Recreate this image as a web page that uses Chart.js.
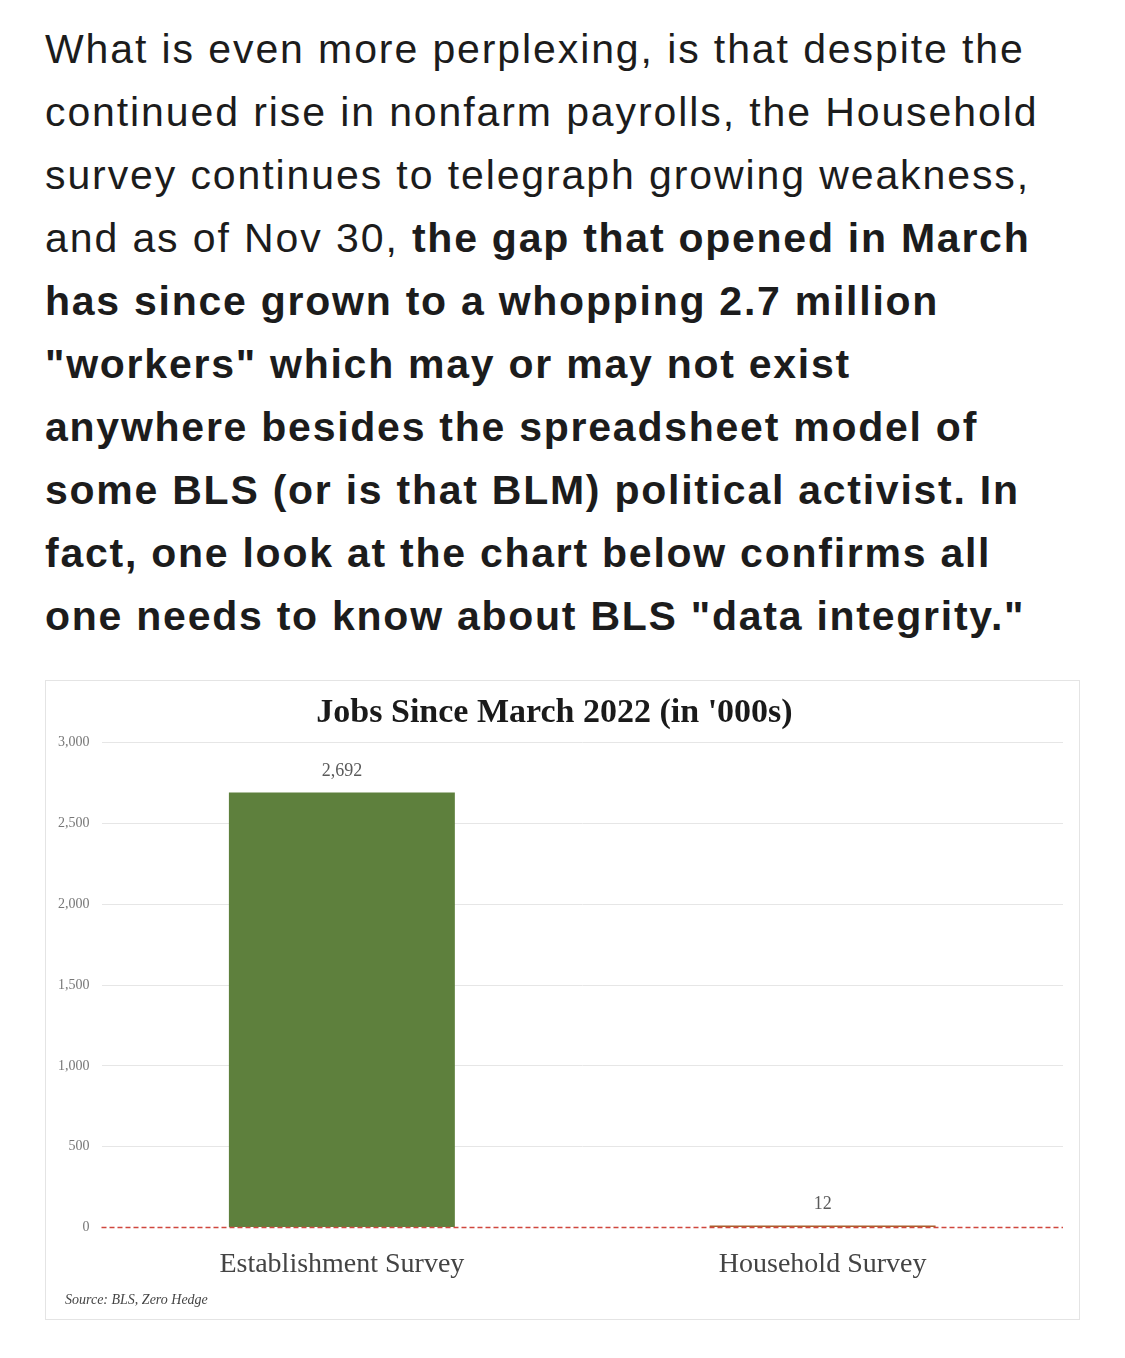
<!DOCTYPE html>
<html>
<head>
<meta charset="utf-8">
<script src="https://cdn.jsdelivr.net/npm/chart.js@4/dist/chart.umd.min.js"></script>
<style>
  body { margin: 0; background: #fff; width: 1125px; height: 1358px; position: relative; overflow: hidden; }
  #text {
    position: absolute; left: 45px; top: 18px;
    font-family: "Liberation Sans", Arial, sans-serif;
    font-size: 41px; line-height: 63px; color: #1c1c1c;
    letter-spacing: 1.9px;
    white-space: nowrap;
  }
  #text b { font-weight: bold; letter-spacing: 1.75px; }
  #chart-box {
    position: absolute; left: 45px; top: 680px; width: 1033px; height: 638px;
    border: 1px solid #e4e4e4;
  }
</style>
</head>
<body>
<div id="text">
What is even more perplexing, is that despite the<br>
continued rise in nonfarm payrolls, the Household<br>
survey continues to telegraph growing weakness,<br>
and as of Nov 30, <b>the gap that opened in March</b><br>
<b>has since grown to a whopping 2.7 million</b><br>
<b>"workers" which may or may not exist</b><br>
<b>anywhere besides the spreadsheet model of</b><br>
<b>some BLS (or is that BLM) political activist. In</b><br>
<b>fact, one look at the chart below confirms all</b><br>
<b>one needs to know about BLS "data integrity."</b>
</div>
<div id="chart-box"><canvas id="jobs-chart"></canvas></div>
<script>
// Jobs since March 2022, thousands
const categories = ['Establishment Survey', 'Household Survey'];
const jobsValues = [2692, 12];
const barColors = ['#5e803d', '#a8612c'];
const yTicks = [0, 500, 1000, 1500, 2000, 2500, 3000];
const sourceNote = 'Source: BLS, Zero Hedge';

const serif = '"Liberation Serif", "Times New Roman", serif';

const barLabels = {
  id: 'barLabels',
  afterDatasetsDraw(chart) {
    const { ctx } = chart;
    const meta = chart.getDatasetMeta(0);
    ctx.save();
    ctx.font = '18px ' + serif;
    ctx.fillStyle = '#5a5a5a';
    ctx.textAlign = 'center';
    ctx.textBaseline = 'bottom';
    meta.data.forEach((bar, i) => {
      ctx.fillText(jobsValues[i].toLocaleString('en-US'), bar.x, bar.y - 12);
    });
    ctx.restore();
  }
};

const zeroLine = {
  id: 'zeroLine',
  afterDatasetsDraw(chart) {
    const { ctx, chartArea, scales } = chart;
    const y = Math.round(scales.y.getPixelForValue(0)) + 0.5;
    ctx.save();
    ctx.strokeStyle = '#d0473f';
    ctx.lineWidth = 1.5;
    ctx.setLineDash([5, 3]);
    ctx.beginPath();
    ctx.moveTo(chartArea.left, y);
    ctx.lineTo(chartArea.right, y);
    ctx.stroke();
    ctx.restore();
  }
};

// source line sits a bit in from the left edge, so draw it by hand
const sourceLine = {
  id: 'sourceLine',
  afterDraw(chart) {
    const { ctx } = chart;
    ctx.save();
    ctx.font = 'italic 14px ' + serif;
    ctx.fillStyle = '#444';
    ctx.textAlign = 'left';
    ctx.textBaseline = 'middle';
    ctx.fillText(sourceNote, 19, chart.height - 19);
    ctx.restore();
  }
};

new Chart(document.getElementById('jobs-chart'), {
  type: 'bar',
  data: {
    labels: categories,
    datasets: [{
      data: jobsValues,
      backgroundColor: barColors,
      barPercentage: 0.94,
      categoryPercentage: 0.5
    }]
  },
  plugins: [barLabels, zeroLine, sourceLine],
  options: {
    responsive: true,
    maintainAspectRatio: false,
    animation: false,
    layout: { padding: { left: 0, right: 16, top: 12, bottom: 26 } },
    plugins: {
      legend: { display: false },
      tooltip: { enabled: false },
      title: {
        display: true,
        text: "Jobs Since March 2022 (in '000s)",
        color: '#1a1a1a',
        font: { family: serif, size: 34, weight: 'bold' },
        padding: { top: 0, bottom: 9 }
      }
    },
    scales: {
      x: {
        grid: { display: false },
        border: { display: false },
        ticks: { color: '#444', font: { family: serif, size: 28 }, padding: 12 }
      },
      y: {
        min: 0,
        max: 3000,
        afterBuildTicks: axis => { axis.ticks = yTicks.map(v => ({ value: v })); },
        grid: {
          drawTicks: false,
          color: ctx => ctx.tick && ctx.tick.value === 0 ? 'rgba(0,0,0,0)' : '#e6e6e6'
        },
        border: { display: false },
        ticks: {
          color: '#777',
          padding: 12,
          font: { family: serif, size: 14 },
          callback: v => v.toLocaleString('en-US')
        }
      }
    }
  }
});
</script>
</body>
</html>
